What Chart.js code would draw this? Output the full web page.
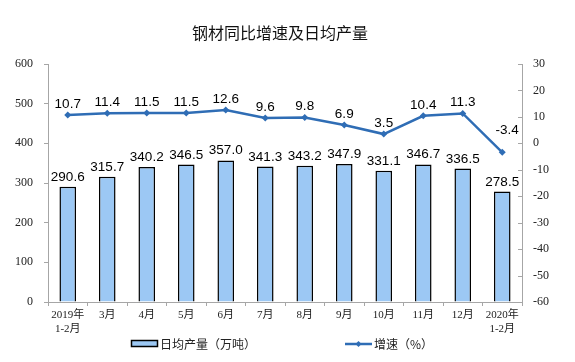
<!DOCTYPE html>
<html>
<head>
<meta charset="utf-8">
<script src="https://cdn.jsdelivr.net/npm/chart.js@4.4.1/dist/chart.umd.min.js"></script>
<style>
html,body{margin:0;padding:0;background:#fff;}
#wrap{width:575px;height:362px;position:relative;}
</style>
</head>
<body>
<div id="wrap"><canvas id="c" width="575" height="362"></canvas></div>
<script>
const categories = [["2019年","1-2月"],"3月","4月","5月","6月","7月","8月","9月","10月","11月","12月",["2020年","1-2月"]];
const dailyOutput = [290.6,315.7,340.2,346.5,357.0,341.3,343.2,347.9,331.1,346.7,336.5,278.5];
const growthRate = [10.7,11.4,11.5,11.5,12.6,9.6,9.8,6.9,3.5,10.4,11.3,-3.4];
const leftTicks = [0,100,200,300,400,500,600];
const rightTicks = [-60,-50,-40,-30,-20,-10,0,10,20,30];
const titleText = "钢材同比增速及日均产量";
const barLabel = "日均产量（万吨）";
const lineLabel = "增速（%）";

const BAR_FILL = "#9cc8f4";
const LINE_COLOR = "#2f6db5";
const AXIS_COLOR = "#a6a6a6";
const CJK = '"Noto Sans CJK SC", sans-serif';
const TICK_FONT = '"Liberation Serif", "Noto Sans CJK SC", serif';

const decor = {
  id: 'decor',
  afterDatasetsDraw(chart) {
    const ctx = chart.ctx;
    ctx.save();
    // data labels
    ctx.font = '13.5px "Liberation Sans", Arial, sans-serif';
    ctx.fillStyle = '#000';
    ctx.textAlign = 'center';
    ctx.textBaseline = 'alphabetic';
    chart.getDatasetMeta(0).data.forEach((el, i) => {
      ctx.fillText(dailyOutput[i].toFixed(1), el.x, el.y - 6);
    });
    chart.getDatasetMeta(1).data.forEach((el, i) => {
      const neg = growthRate[i] < 0;
      ctx.fillText(growthRate[i].toFixed(1), el.x + (neg ? 5 : 0), el.y - (neg ? 18 : 7));
    });
    // inward ticks on right axis
    const y1 = chart.scales.y1;
    ctx.strokeStyle = AXIS_COLOR;
    ctx.lineWidth = 1;
    rightTicks.forEach(v => {
      const py = Math.round(y1.getPixelForValue(v)) + 0.5;
      ctx.beginPath();
      ctx.moveTo(y1.left - 4, py);
      ctx.lineTo(y1.left, py);
      ctx.stroke();
    });
    // title
    ctx.font = '16px ' + CJK;
    ctx.fillStyle = '#111';
    ctx.textBaseline = 'middle';
    ctx.fillText(titleText, 280, 33);
    // legend
    ctx.textAlign = 'left';
    ctx.font = '12px ' + CJK;
    ctx.fillStyle = BAR_FILL;
    ctx.fillRect(131.5, 340.5, 26, 6);
    ctx.strokeStyle = '#000';
    ctx.lineWidth = 1.5;
    ctx.strokeRect(131.5, 340.5, 26, 6);
    ctx.fillStyle = '#222';
    ctx.fillText(barLabel, 160, 344);
    ctx.strokeStyle = LINE_COLOR;
    ctx.lineWidth = 2.5;
    ctx.beginPath();
    ctx.moveTo(345, 344);
    ctx.lineTo(372, 344);
    ctx.stroke();
    ctx.fillStyle = LINE_COLOR;
    ctx.beginPath();
    ctx.moveTo(358.5, 341); ctx.lineTo(361.5, 344); ctx.lineTo(358.5, 347); ctx.lineTo(355.5, 344);
    ctx.closePath(); ctx.fill();
    ctx.fillStyle = '#222';
    ctx.fillText(lineLabel, 374, 344);
    ctx.restore();
  }
};

new Chart(document.getElementById('c'), {
  data: {
    labels: categories,
    datasets: [
      {
        type: 'bar',
        label: barLabel,
        data: dailyOutput,
        yAxisID: 'y',
        backgroundColor: BAR_FILL,
        borderColor: '#000',
        borderWidth: 1.5,
        barPercentage: 0.42,
        categoryPercentage: 1.0,
        order: 2
      },
      {
        type: 'line',
        label: lineLabel,
        data: growthRate,
        yAxisID: 'y1',
        borderColor: LINE_COLOR,
        backgroundColor: LINE_COLOR,
        borderWidth: 2.5,
        pointStyle: 'rectRot',
        pointRadius: 3.5,
        pointBorderWidth: 0,
        tension: 0,
        order: 1
      }
    ]
  },
  options: {
    responsive: false,
    animation: false,
    layout: { padding: { top: 64, left: 0, right: 0, bottom: 0 } },
    plugins: {
      legend: { display: false },
      title: { display: false },
      tooltip: { enabled: false }
    },
    scales: {
      x: {
        offset: true,
        grid: { offset: true, drawOnChartArea: false, drawTicks: true, tickLength: 4, color: AXIS_COLOR },
        border: { color: AXIS_COLOR, width: 1 },
        ticks: { color: '#222', font: { family: TICK_FONT, size: 11 }, padding: 3, maxRotation: 0, autoSkip: false },
        afterFit(s) { s.height = 60; }
      },
      y: {
        position: 'left',
        min: 0, max: 600,
        afterBuildTicks(s) { s.ticks = leftTicks.map(v => ({ value: v })); },
        grid: { drawOnChartArea: false, drawTicks: true, tickLength: 4, color: AXIS_COLOR },
        border: { color: AXIS_COLOR, width: 1 },
        ticks: { color: '#222', font: { family: TICK_FONT, size: 12 }, padding: 11 },
        afterFit(s) { s.width = 48; }
      },
      y1: {
        position: 'right',
        min: -60, max: 30,
        afterBuildTicks(s) { s.ticks = rightTicks.map(v => ({ value: v })); },
        grid: { drawOnChartArea: false, drawTicks: false, color: AXIS_COLOR },
        border: { color: AXIS_COLOR, width: 1 },
        ticks: { color: '#222', font: { family: TICK_FONT, size: 12 }, padding: 11 },
        afterFit(s) { s.width = 53; }
      }
    }
  },
  plugins: [decor]
});
</script>
</body>
</html>
